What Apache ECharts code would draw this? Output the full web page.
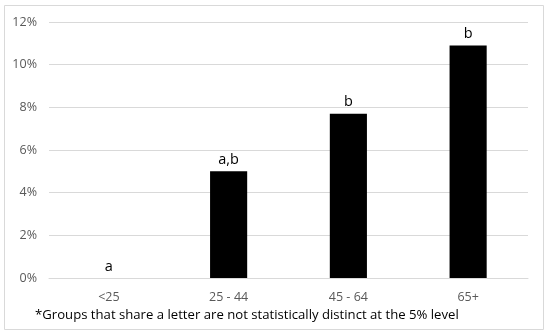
<!DOCTYPE html>
<html><head><meta charset="utf-8">
<script src="https://cdn.jsdelivr.net/npm/echarts@6/dist/echarts.min.js"></script>
<style>html,body{margin:0;padding:0;background:#fff}#c{width:550px;height:335px}</style>
</head><body><div id="c"></div>
<script>
var categories = ['<25', '25 - 44', '45 - 64', '65+'];
var values = [0, 5.0, 7.7, 10.9];
var letters = ['a', 'a,b', 'b', 'b'];
var yTicks = [0, 2, 4, 6, 8, 10, 12];
var footnote = '*Groups that share a letter are not statistically distinct at the 5% level';

var FONT = '"Open Sans", "Liberation Sans", sans-serif';
var chart = echarts.init(document.getElementById('c'), null, {renderer: 'canvas'});
chart.setOption({
  animation: false,
  graphic: [{
    type: 'rect', shape: {x: 4.5, y: 5.5, width: 539, height: 324},
    style: {fill: 'none', stroke: '#d9d9d9', lineWidth: 1}, z: -1
  }],
  title: {
    text: footnote, left: 30, top: 304,
    textStyle: {fontFamily: FONT, fontSize: 13.15, fontWeight: 'normal', color: '#000'}
  },
  grid: {left: 49, right: 22, top: 22, bottom: 57, containLabel: false},
  xAxis: {
    type: 'category', data: categories,
    axisLine: {lineStyle: {color: '#d9d9d9'}},
    axisTick: {show: false},
    axisLabel: {color: '#595959', fontFamily: FONT, fontSize: 12.5, margin: 13}
  },
  yAxis: {
    type: 'value', min: yTicks[0], max: yTicks[yTicks.length - 1], interval: 2,
    axisLine: {show: false}, axisTick: {show: false},
    splitLine: {lineStyle: {color: '#d9d9d9'}},
    axisLabel: {color: '#595959', fontFamily: FONT, fontSize: 12.5, margin: 12,
      formatter: function (v) { return v + '%'; }}
  },
  series: [{
    type: 'bar', data: values, barWidth: '31%',
    itemStyle: {color: '#000'},
    label: {show: true, position: 'top', distance: 4, color: '#000', fontFamily: FONT, fontSize: 14.5,
      formatter: function (p) { return letters[p.dataIndex]; }}
  }]
});
</script></body></html>
